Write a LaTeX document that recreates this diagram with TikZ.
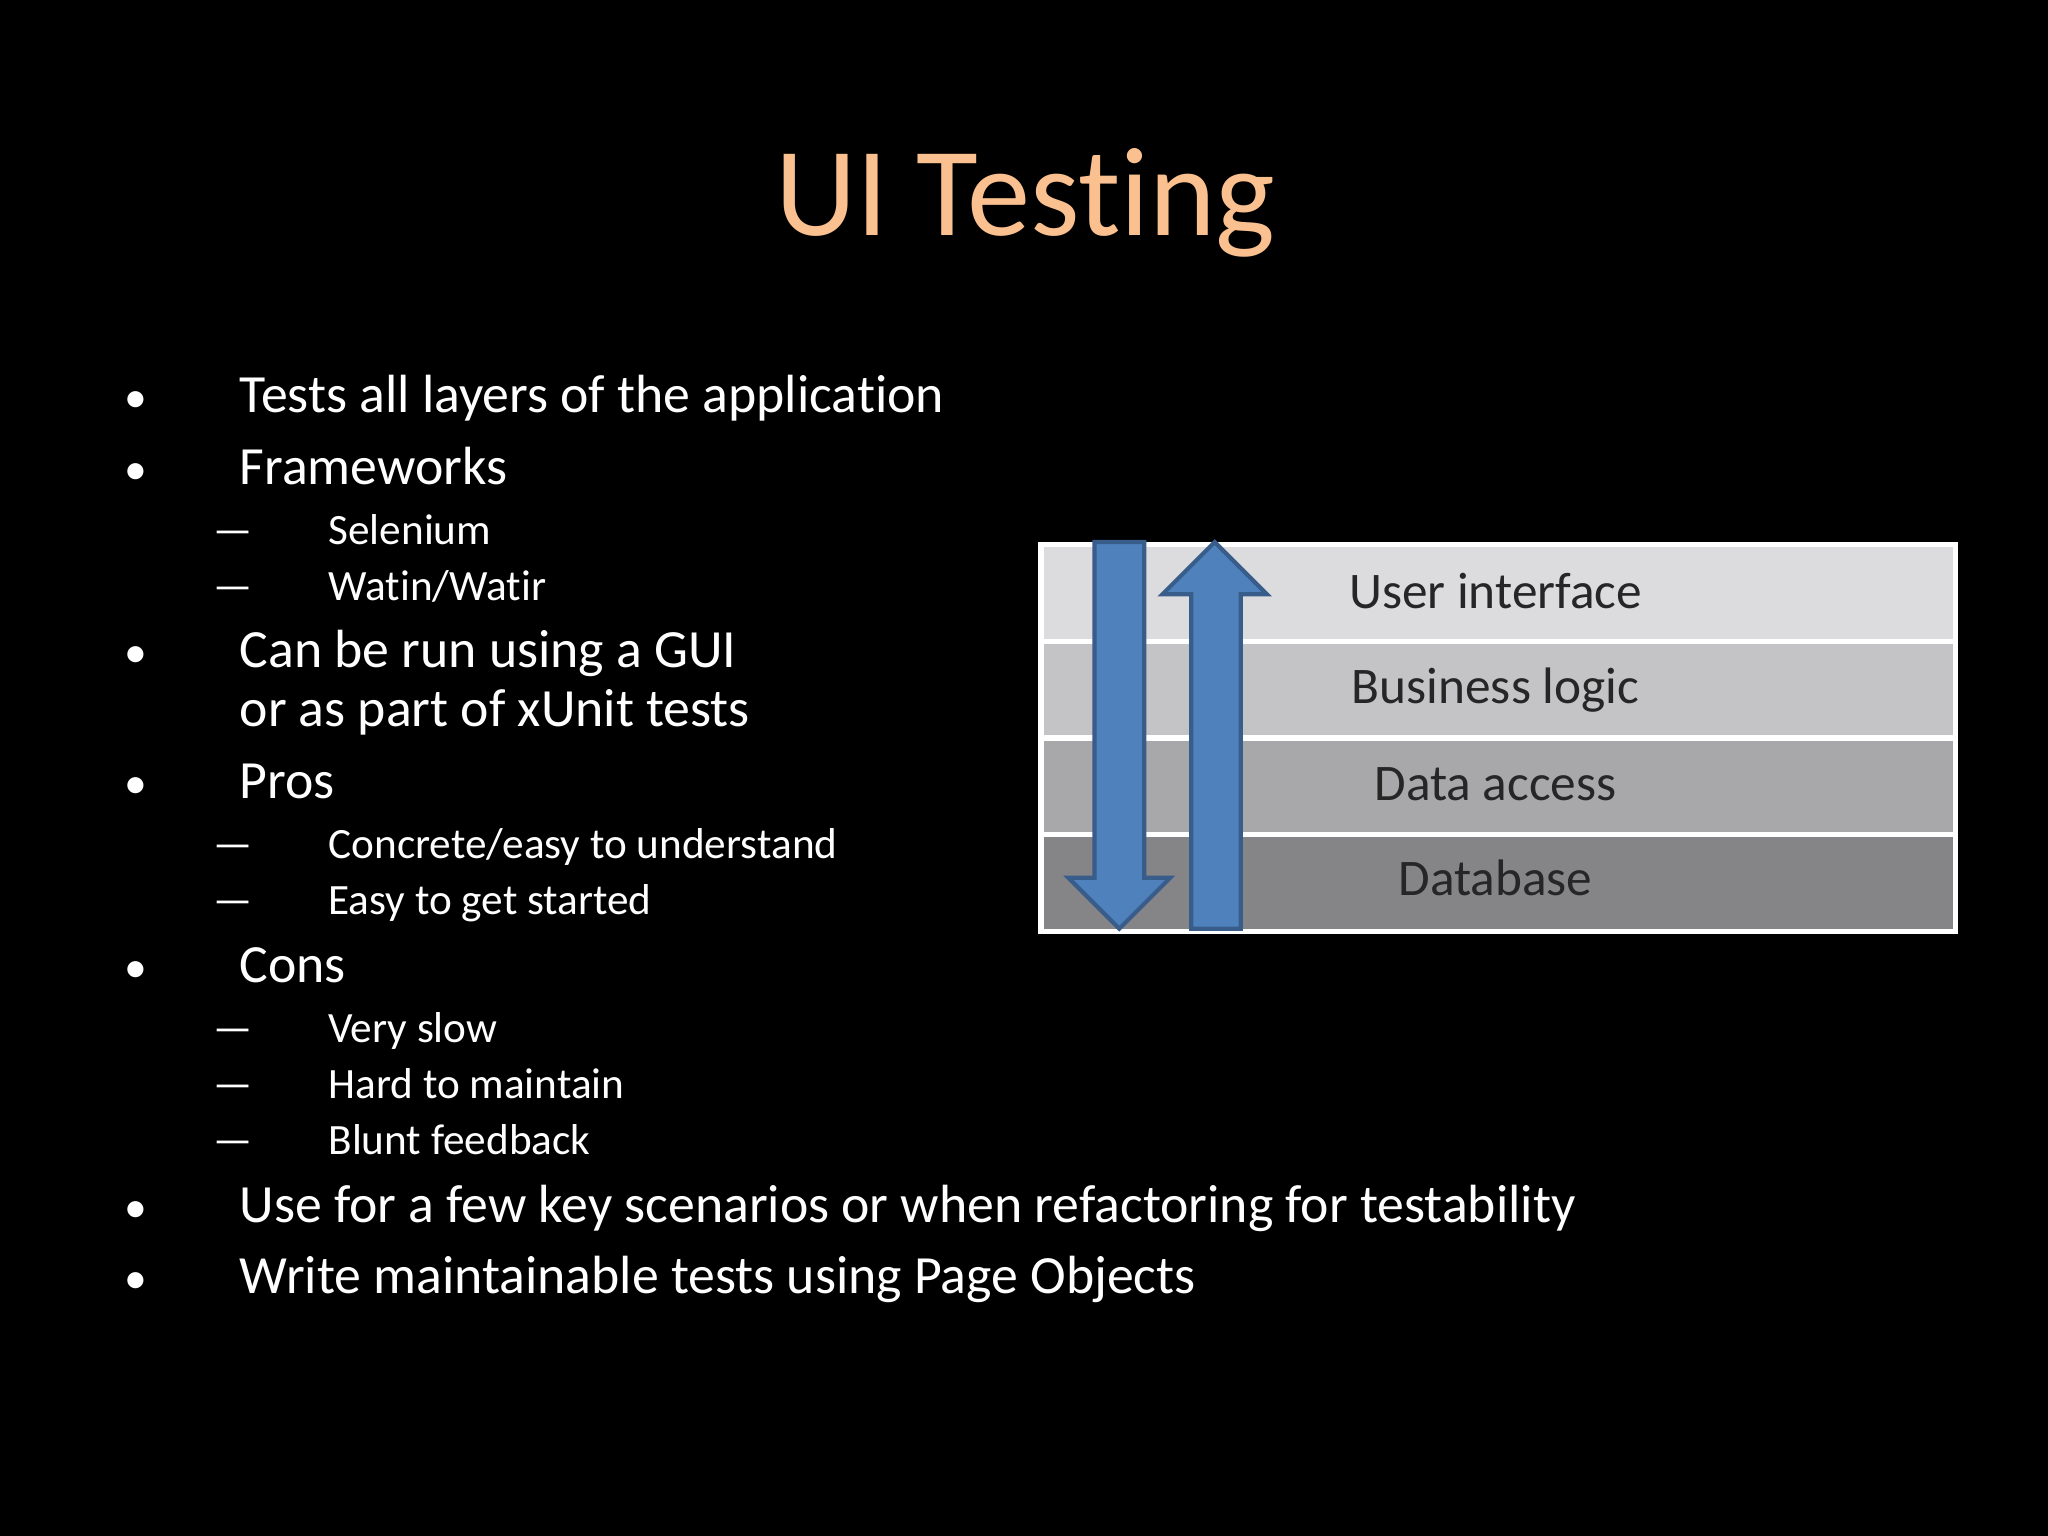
\documentclass[tikz,border=0pt]{standalone}
\usepackage{fontspec}
\setmainfont{Carlito}[Ligatures=NoCommon]
\begin{document}
\begin{tikzpicture}[x=0.01306cm,y=-0.01306cm,
  main/.style={anchor=base west,text=white,font=\fontsize{15.3}{18}\selectfont,inner sep=0},
  sub/.style={anchor=base west,text=white,font=\fontsize{12.3}{15}\selectfont,inner sep=0},
  row/.style={draw=white,line width=1.5pt,minimum width=700*0.01306cm,minimum height=74*0.01306cm,anchor=north west,inner sep=0},
  rowtxt/.style={anchor=base,text=black!85,font=\fontsize{14.6}{18}\selectfont,inner sep=0},
  arr/.style={fill={rgb,255:red,79;green,129;blue,189},draw={rgb,255:red,56;green,93;blue,138},line width=1.2pt}]
\fill[black] (0,0) rectangle (1568,1176);
\useasboundingbox (0,0) rectangle (1568,1176);
\node[anchor=base,text={rgb,255:red,250;green,192;blue,143},font=\fontsize{36}{40}\selectfont,inner sep=0] (title) at (785,180) {UI Testing};
% bullets
\foreach \y/\t [count=\i] in {316/{Tests all layers of the application},371/{Frameworks},511/{Can be run using a GUI},556/{or as part of xUnit tests},611/{Pros},752/{Cons},936/{Use for a few key scenarios or when refactoring for testability},990/{Write maintainable tests using Page Objects}}
  \node[main] (m\i) at (183,\y) {\t};
\foreach \y in {316,371,511,611,752,936,990}
  \node[main,font=\fontsize{13}{15}\selectfont] at (95,\y) {\textbullet};
\foreach \y/\t [count=\i] in {417/{Selenium},460/{Watin/Watir},657/{Concrete/easy to understand},700/{Easy to get started},798/{Very slow},841/{Hard to maintain},884/{Blunt feedback}}{
  \node[sub] (s\i) at (251,\y) {\t};
  \node[sub] at (163,\y) {\textemdash};}
% layers
\node[row,fill={rgb,255:red,220;green,220;blue,222}] (r1) at (795,415) {};
\node[row,fill={rgb,255:red,196;green,196;blue,198}] (r2) at (795,489) {};
\node[row,fill={rgb,255:red,168;green,168;blue,170}] (r3) at (795,563) {};
\node[row,fill={rgb,255:red,133;green,132;blue,134}] (r4) at (795,637) {};
\node[rowtxt] at (1145,466) {User interface};
\node[rowtxt] at (1145,539) {Business logic};
\node[rowtxt] at (1145,613) {Data access};
\node[rowtxt] at (1145,686) {Database};
% arrows
\draw[arr] (838,415) -- (876,415) -- (876,672) -- (896,672) -- (857,711) -- (818,672) -- (838,672) -- cycle;
\draw[arr] (912,711) -- (950,711) -- (950,455) -- (970,455) -- (930,415) -- (890,455) -- (912,455) -- cycle;
\end{tikzpicture}
\end{document}
